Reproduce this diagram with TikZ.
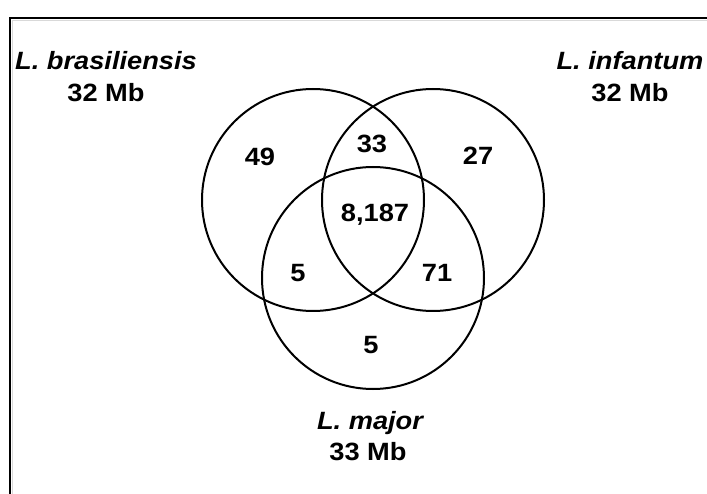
\documentclass[tikz,border=0pt]{standalone}
\usepackage{fontspec}
\setmainfont{Liberation Sans}[FakeStretch=1.09]
\begin{document}
\begin{tikzpicture}[x=1pt,y=-1pt,
  ring/.style={circle,draw=black,line width=2pt,minimum size=222pt,inner sep=0pt},
  num/.style={font=\fontsize{25}{30}\selectfont\bfseries,anchor=base,inner sep=0pt},
  species/.style={num,font=\fontsize{25}{30}\selectfont\bfseries\itshape}]
  \useasboundingbox (0,0) rectangle (707,494);
  % frame with its faint inner edge
  \draw[black!15,line width=0.8pt] (12.5,494) -- (12.5,20.5) -- (707,20.5);
  \draw[line width=2pt] (10,494) -- (10,18) -- (707,18);

  % the three genome sets
  \node[ring] (bra) at (313,200) {};
  \node[ring] (inf) at (433,200) {};
  \node[ring] (maj) at (373,278) {};

  % species labels
  \node[species] (braname) at (106,70) {L. brasiliensis};
  \node[num]     (brasize) at (106,101.5) {32 Mb};
  \node[species] (infname) at (630,70) {L. infantum};
  \node[num]     (infsize) at (630,101.5) {32 Mb};
  \node[species] (majname) at (370,429) {L. major};
  \node[num]     (majsize) at (368,460) {33 Mb};

  % region counts
  \node[num] (onlybra)  at (260,165.5) {49};
  \node[num] (brainf)   at (372,153) {33};
  \node[num] (onlyinf)  at (478,165) {27};
  \node[num] (all)      at (375,222) {8,187};
  \node[num] (bramaj)   at (298,282) {5};
  \node[num] (infmaj)   at (437,282) {71};
  \node[num] (onlymaj)  at (371,354) {5};
\end{tikzpicture}
\end{document}
